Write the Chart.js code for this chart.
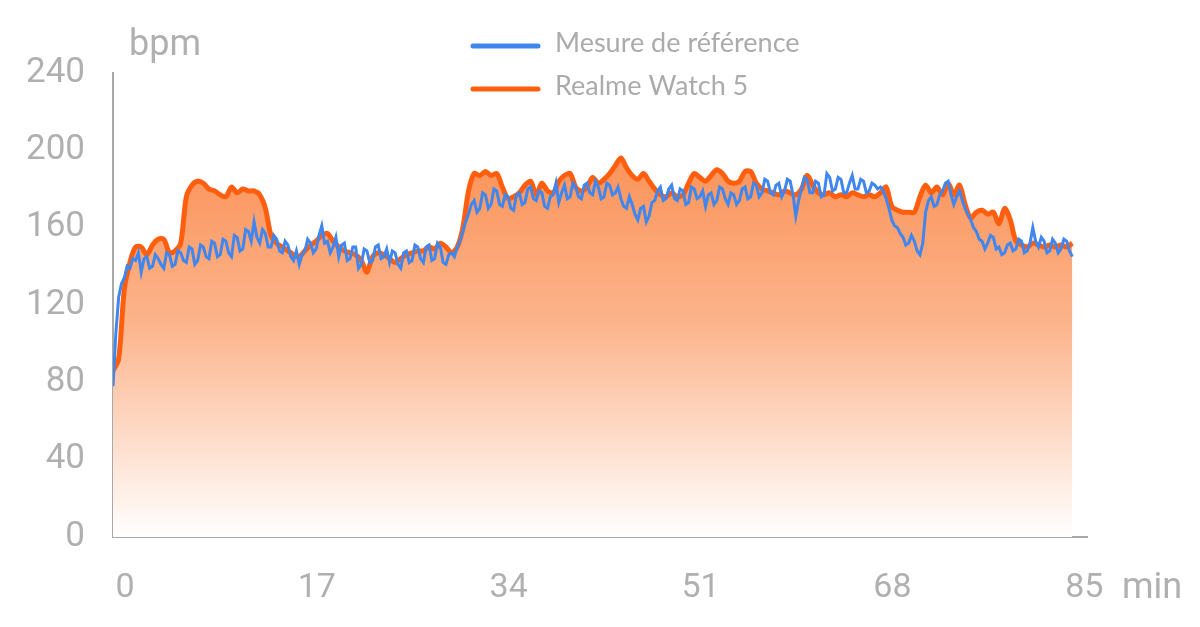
<!DOCTYPE html>
<html><head><meta charset="utf-8">
<script src="https://cdn.jsdelivr.net/npm/chart.js@4/dist/chart.umd.min.js"></script>
<style>html,body{margin:0;padding:0;background:#fff;overflow:hidden}</style>
</head><body>
<canvas id="c" width="1200" height="627"></canvas>
<script>
// sampling intervals of the two series, in minutes
const WATCH_STEP_MIN = 0.5;
const REF_STEP_MIN = 0.25;

const seriesLabels = ['Mesure de référence', 'Realme Watch 5'];

// Realme Watch 5 (bpm), one value every 0.5 min from 0 to 85
const realmeWatch5 = [
  86, 92, 128, 142, 150, 150, 146, 151, 154, 154,
  147, 148, 152, 176, 182, 184, 183, 180, 179, 177,
  176, 181, 178, 180, 179, 179, 177, 170, 156, 152,
  150, 148, 146, 145, 148, 151, 153, 156, 157, 153,
  150, 148, 147, 146, 143, 137, 145, 147, 146, 144,
  142, 144, 146, 147, 148, 148, 150, 149, 152, 150,
  147, 150, 160, 179, 188, 187, 189, 187, 188, 181,
  175, 176, 178, 182, 184, 177, 183, 179, 178, 184,
  187, 188, 181, 179, 181, 186, 183, 185, 188, 192,
  196, 191, 187, 185, 188, 184, 180, 177, 176, 178,
  176, 177, 183, 188, 186, 184, 187, 190, 188, 184,
  183, 184, 189, 189, 183, 180, 179, 178, 177, 179,
  178, 177, 180, 187, 182, 178, 177, 178, 176, 177,
  176, 178, 177, 176, 177, 176, 178, 181, 171, 169,
  168, 168, 168, 176, 182, 178, 181, 177, 183, 177,
  182, 172, 165, 168, 169, 167, 168, 162, 170, 164,
  153, 151, 150, 152, 151, 150, 151, 150, 151, 150,
  152
];

// Mesure de référence (bpm), one value every 0.25 min from 0 to 85
const reference = [
  78, 105, 124, 131, 134, 140, 139, 144, 143, 147, 137, 144, 145, 139, 140, 146, 144, 141, 139, 147,
  146, 140, 141, 148, 147, 143, 142, 150, 149, 141, 143, 151, 150, 145, 144, 153, 152, 145, 146, 154,
  153, 147, 145, 156, 155, 148, 149, 159, 158, 153, 163, 155, 152, 159, 157, 150, 150, 156, 154, 148,
  147, 153, 151, 145, 143, 148, 141, 146, 148, 154, 152, 147, 149, 156, 161, 152, 153, 147, 150, 155,
  145, 151, 152, 143, 144, 150, 150, 139, 141, 149, 148, 142, 143, 150, 151, 144, 145, 149, 142, 148,
  147, 141, 139, 147, 148, 142, 143, 151, 150, 144, 142, 150, 151, 143, 144, 152, 150, 142, 141, 146,
  147, 145, 150, 153, 158, 163, 167, 172, 174, 168, 170, 178, 177, 170, 172, 180, 179, 172, 171, 177,
  176, 170, 169, 177, 178, 172, 173, 180, 181, 175, 174, 179, 178, 171, 170, 176, 177, 183, 173, 178,
  182, 175, 176, 183, 181, 176, 175, 182, 183, 178, 177, 184, 181, 175, 176, 183, 182, 177, 178, 181,
  175, 171, 170, 176, 172, 167, 164, 170, 171, 163, 166, 173, 174, 179, 181, 174, 175, 180, 182, 175,
  174, 180, 179, 172, 173, 181, 180, 175, 176, 179, 171, 177, 178, 172, 174, 181, 180, 175, 172, 178,
  177, 172, 174, 180, 181, 175, 176, 183, 182, 176, 178, 185, 184, 178, 177, 182, 183, 176, 179, 185,
  184, 177, 166, 174, 180, 186, 185, 178, 178, 184, 183, 176, 177, 188, 186, 179, 180, 186, 185, 178,
  178, 183, 187, 180, 180, 185, 184, 178, 179, 183, 182, 180, 181, 179, 175, 170, 164, 161, 160, 157,
  155, 151, 152, 156, 153, 148, 146, 152, 168, 174, 176, 171, 172, 177, 179, 183, 184, 177, 172, 176,
  179, 174, 170, 167, 164, 160, 158, 154, 153, 149, 152, 156, 155, 149, 150, 146, 147, 151, 152, 148,
  149, 154, 153, 147, 148, 152, 160, 153, 150, 155, 153, 147, 148, 154, 152, 147, 149, 154, 153, 148,
  145
];

const xTickValues = [0, 17, 34, 51, 68, 85];
const yTickValues = [0, 40, 80, 120, 160, 200, 240];
const yUnit = 'bpm';
const xUnit = 'min';

const toPoints = (arr, step) => arr.map((v, i) => ({ x: i * step, y: v }));

const GREY = '#b0b0b0';
const ORANGE = '#ff5e0e';
const BLUE = '#3f86ef';

const overlay = {
  id: 'overlay',
  afterDraw(chart) {
    const ctx = chart.ctx;
    ctx.save();
    ctx.fillStyle = GREY;
    ctx.font = '36px Roboto';
    ctx.textBaseline = 'alphabetic';
    ctx.textAlign = 'left';
    ctx.fillText(yUnit, 129, 55);
    ctx.fillText(xUnit, 1122, 598);
    chart.data.datasets.forEach((ds, i) => {
      const y = 46 + i * 43;
      ctx.strokeStyle = ds.borderColor;
      ctx.lineWidth = 5;
      ctx.lineCap = 'round';
      ctx.beginPath();
      ctx.moveTo(473, y);
      ctx.lineTo(538, y);
      ctx.stroke();
      ctx.font = '27px Lato';
      ctx.textBaseline = 'middle';
      ctx.fillStyle = '#ababab';
      ctx.fillText(ds.label, 555, y - 3);
    });
    ctx.restore();
  }
};

new Chart(document.getElementById('c'), {
  type: 'line',
  data: {
    datasets: [
      {
        label: seriesLabels[0],
        data: toPoints(reference, REF_STEP_MIN),
        borderColor: BLUE,
        borderWidth: 3,
        pointRadius: 0,
        tension: 0,
        fill: false,
        order: 0
      },
      {
        label: seriesLabels[1],
        data: toPoints(realmeWatch5, WATCH_STEP_MIN),
        borderColor: ORANGE,
        borderWidth: 5,
        pointRadius: 0,
        tension: 0.3,
        fill: 'origin',
        order: 1,
        backgroundColor: (c) => {
          const ca = c.chart.chartArea;
          if (!ca) return 'rgba(252,160,110,0.8)';
          const y = c.chart.scales.y;
          const g = c.chart.ctx.createLinearGradient(0, y.getPixelForValue(200), 0, ca.bottom);
          g.addColorStop(0, 'rgb(251,146,88)');
          g.addColorStop(0.45, 'rgb(252,180,140)');
          g.addColorStop(1, 'rgb(255,255,255)');
          return g;
        }
      }
    ]
  },
  options: {
    responsive: false,
    animation: false,
    events: [],
    layout: { padding: { top: 73, right: 113, bottom: 0, left: 0 } },
    plugins: { legend: { display: false }, tooltip: { enabled: false } },
    scales: {
      x: {
        type: 'linear',
        min: 0,
        max: 86.3,
        afterBuildTicks: s => { s.ticks = xTickValues.map(v => ({ value: v })); },
        afterFit: s => { s.height = 90; },
        grid: { display: false, drawTicks: false },
        border: { display: true, color: '#a8a8a8', width: 2 },
        ticks: { color: GREY, font: { family: 'Roboto', size: 34 }, padding: 31, labelOffset: 12, maxRotation: 0 }
      },
      y: {
        min: 0,
        max: 240,
        afterBuildTicks: s => { s.ticks = yTickValues.map(v => ({ value: v })); },
        afterFit: s => { s.width = 113; },
        grid: { display: false, drawTicks: false },
        border: { display: true, color: '#a8a8a8', width: 2 },
        ticks: { color: GREY, font: { family: 'Roboto', size: 35 }, padding: 28 }
      }
    }
  },
  plugins: [overlay]
});
</script>
</body></html>
